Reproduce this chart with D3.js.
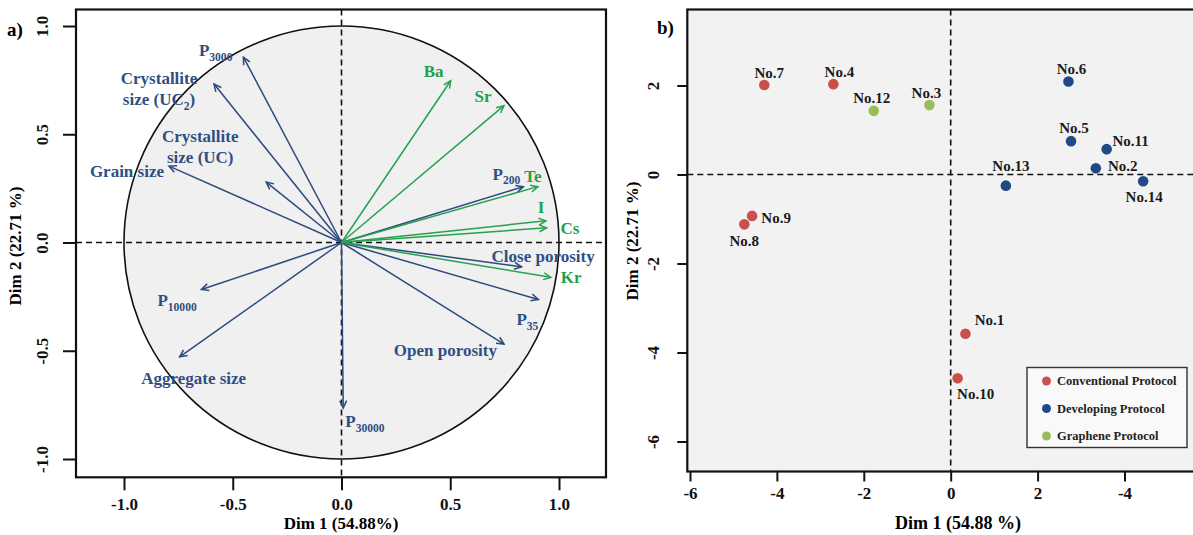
<!DOCTYPE html>
<html>
<head>
<meta charset="utf-8">
<script src="https://cdn.jsdelivr.net/npm/d3@7"></script>
<style>
body { margin: 0; background: #fff; }
text { font-family: "Liberation Serif", "Times New Roman", serif; font-weight: bold; }
</style>
</head>
<body>
<script>
// ---- panel a) variables (correlation circle) ----
var varNames = ['P_3000', 'Crystallite\nsize (UC_2)', 'Crystallite\nsize (UC)', 'Grain size', 'P_10000',
                'Aggregate size', 'P_30000', 'Open porosity', 'P_35', 'Close porosity', 'P_200',
                'Ba', 'Sr', 'Te', 'I', 'Cs', 'Kr'];
var varDim1 = [-0.451, -0.586, -0.346, -0.793, -0.644, -0.744, 0.008, 0.747, 0.905, 0.828, 0.836,
               0.502, 0.747, 0.903, 0.94, 0.943, 0.962];
var varDim2 = [0.856, 0.732, 0.279, 0.353, -0.217, -0.528, -0.764, -0.469, -0.263, -0.112, 0.258,
               0.747, 0.632, 0.258, 0.10, 0.068, -0.161];
var varGroup = ['s','s','s','s','s','s','s','s','s','s','s','e','e','e','e','e','e'];

var ticksA = [-1, -0.5, 0, 0.5, 1];
var tickLabelsA = ['-1.0', '-0.5', '0.0', '0.5', '1.0'];

// ---- panel b) individuals ----
var sampleNames = ['No.1','No.2','No.3','No.4','No.5','No.6','No.7','No.8','No.9','No.10','No.11','No.12','No.13','No.14'];
var sampleDim1 = [0.34, 3.34, -0.49, -2.70, 2.77, 2.71, -4.29, -4.75, -4.57, 0.16, 3.59, -1.77, 1.27, 4.43];
var sampleDim2 = [-3.58, 0.14, 1.56, 2.03, 0.75, 2.09, 2.01, -1.12, -0.93, -4.58, 0.57, 1.43, -0.25, -0.15];
var sampleProtocol = ['Conventional','Developing','Graphene','Conventional','Developing','Developing','Conventional',
                      'Conventional','Conventional','Conventional','Developing','Graphene','Developing','Developing'];

var protocols = ['Conventional', 'Developing', 'Graphene'];
var protocolLabels = ['Conventional Protocol', 'Developing Protocol', 'Graphene Protocol'];

var ticksBx = [-6, -4, -2, 0, 2, 4];
var tickLabelsBx = ['-6', '-4', '-2', '0', '2', '-4'];
var ticksBy = [-6, -4, -2, 0, 2];
var tickLabelsBy = ['-6', '-4', '-2', '0', '2'];

// label placement (pixels from the arrow tip / point)
var varLabelPos = {
  'P_3000': [-11, -7, 'end'], 'Crystallite\nsize (UC_2)': [-55, -6, 'middle'],
  'Crystallite\nsize (UC)': [-66, -46, 'middle'], 'Grain size': [-5, 5, 'end'],
  'P_10000': [-44, 11, 'start'], 'Aggregate size': [14, 21, 'middle'], 'P_30000': [2, 13, 'start'],
  'Open porosity': [-7, 6, 'end'], 'P_35': [0, 20, 'end'], 'Close porosity': [-30, -11, 'start'],
  'P_200': [-3, -13, 'end'], 'Ba': [-17, -10, 'middle'], 'Sr': [-21, -10, 'middle'],
  'Te': [-5, -11, 'middle'], 'I': [-5, -14, 'middle'], 'Cs': [14, 0, 'start'], 'Kr': [10, 0, 'start']
};
var sampleLabelPos = {
  'No.1': [24, -14], 'No.2': [27, -3], 'No.3': [-3, -12], 'No.4': [6, -12], 'No.5': [3, -13],
  'No.6': [3, -13], 'No.7': [5, -12], 'No.8': [0, 16], 'No.9': [24, 2], 'No.10': [18, 15],
  'No.11': [24, -8], 'No.12': [-2, -13], 'No.13': [5, -20], 'No.14': [1, 16]
};

var blue = '#2c4a7c', blueText = '#2f4f84', green = '#25a24f', greenText = '#21a04a';
var protocolColor = d3.scaleOrdinal().domain(protocols).range(['#c9504c', '#1f4a86', '#9bbb59']);

var svg = d3.select('body').append('svg').attr('width', 1193).attr('height', 535);

// helper: text with "_" subscripts and "\n" line breaks
function richText(sel, str, size) {
  var lines = str.split('\n');
  lines.forEach(function(line, li) {
    var parts = line.split(/_(\w+)/), shift = 0;
    parts.forEach(function(p, i) {
      if (p === '') return;
      var t = sel.append('tspan').text(p);
      var dy = 0;
      if (i === 0 && li > 0) { t.attr('x', sel.attr('x')); dy += size * 1.25; }
      if (i % 2 === 1) {
        t.attr('font-size', size * 0.68 + 'px');
        dy += size * 0.28; shift = size * 0.28;
      } else if (shift) {
        dy -= shift; shift = 0;
      }
      if (dy) t.attr('dy', dy + 'px');
    });
  });
}

// ================= panel a) =================
var A = {left: 76, top: 9.5, right: 606, bottom: 477.3};
var xA = d3.scaleLinear().domain([-1.2207, 1.2161]).range([A.left, A.right]);
var yA = d3.scaleLinear().domain([-1.0845, 1.0762]).range([A.bottom, A.top]);

var gA = svg.append('g');
gA.append('ellipse')
  .attr('cx', xA(0)).attr('cy', yA(0))
  .attr('rx', xA(1) - xA(0)).attr('ry', yA(0) - yA(1))
  .attr('fill', '#f0f0f0').attr('stroke', '#111').attr('stroke-width', 1.6);

gA.append('line').attr('x1', A.left).attr('x2', A.right).attr('y1', yA(0)).attr('y2', yA(0))
  .attr('stroke', '#111').attr('stroke-width', 1.6).attr('stroke-dasharray', '6,4');
gA.append('line').attr('x1', xA(0)).attr('x2', xA(0)).attr('y1', A.top).attr('y2', A.bottom)
  .attr('stroke', '#111').attr('stroke-width', 1.6).attr('stroke-dasharray', '6,4');

var arrowLine = d3.line();
varNames.forEach(function(name, i) {
  var ox = xA(0), oy = yA(0), tx = xA(varDim1[i]), ty = yA(varDim2[i]);
  var ang = Math.atan2(ty - oy, tx - ox), hl = 8, sp = 0.45;
  var col = varGroup[i] === 'e' ? green : blue;
  gA.append('path').attr('d', arrowLine([[ox, oy], [tx, ty]]))
    .attr('stroke', col).attr('stroke-width', 1.5).attr('fill', 'none');
  gA.append('path').attr('d', arrowLine([
      [tx - hl * Math.cos(ang - sp), ty - hl * Math.sin(ang - sp)], [tx, ty],
      [tx - hl * Math.cos(ang + sp), ty - hl * Math.sin(ang + sp)]]))
    .attr('stroke', col).attr('stroke-width', 1.5).attr('fill', 'none');

  var pos = varLabelPos[name];
  var t = gA.append('text').attr('x', tx + pos[0]).attr('y', ty + pos[1])
    .attr('dy', '0.35em').attr('text-anchor', pos[2]).attr('font-size', '17px')
    .attr('fill', varGroup[i] === 'e' ? greenText : blueText);
  richText(t, name, 17);
});

gA.append('rect').attr('x', A.left).attr('y', A.top)
  .attr('width', A.right - A.left).attr('height', A.bottom - A.top)
  .attr('fill', 'none').attr('stroke', '#111').attr('stroke-width', 2.2);

var axA1 = gA.append('g').attr('transform', 'translate(0,' + A.bottom + ')')
  .call(d3.axisBottom(xA).tickValues(ticksA).tickFormat(function(d, i) { return tickLabelsA[i]; })
        .tickSize(13).tickSizeOuter(0));
var axA2 = gA.append('g').attr('transform', 'translate(' + A.left + ',0)')
  .call(d3.axisLeft(yA).tickValues(ticksA).tickFormat(function(d, i) { return tickLabelsA[i]; })
        .tickSize(13).tickSizeOuter(0));
[axA1, axA2].forEach(function(ax) {
  ax.select('.domain').remove();
  ax.selectAll('line').attr('stroke', '#111').attr('stroke-width', 2);
  ax.selectAll('text').attr('font-size', '17px').attr('fill', '#111');
});
axA1.selectAll('text').attr('y', 27).attr('dy', '0.35em');
axA2.selectAll('text').attr('x', null).attr('dy', null).attr('text-anchor', 'middle')
  .attr('dominant-baseline', 'central').attr('transform', 'translate(-34,0) rotate(-90)');

gA.append('text').attr('x', 341).attr('y', 523).attr('dy', '0.35em').attr('text-anchor', 'middle')
  .attr('font-size', '17px').text('Dim 1 (54.88%)');
gA.append('text').attr('transform', 'translate(15,246) rotate(-90)').attr('dy', '0.35em')
  .attr('text-anchor', 'middle').attr('font-size', '17px').text('Dim 2 (22.71 %)');
gA.append('text').attr('x', 7).attr('y', 29).attr('dy', '0.35em').attr('font-size', '19px').text('a)');

// ================= panel b) =================
var B = {left: 687.3, top: 9.5, right: 1200, bottom: 471.5};
var xB = d3.scaleLinear().domain([-6.062, 5.738]).range([B.left, B.right]);
var yB = d3.scaleLinear().domain([-6.674, 3.708]).range([B.bottom, B.top]);

var gB = svg.append('g');
gB.append('rect').attr('x', B.left).attr('y', B.top)
  .attr('width', B.right - B.left).attr('height', B.bottom - B.top).attr('fill', '#f2f2f2');

gB.append('line').attr('x1', B.left).attr('x2', B.right).attr('y1', yB(0)).attr('y2', yB(0))
  .attr('stroke', '#111').attr('stroke-width', 1.6).attr('stroke-dasharray', '6,4');
gB.append('line').attr('x1', xB(0)).attr('x2', xB(0)).attr('y1', B.top).attr('y2', B.bottom)
  .attr('stroke', '#111').attr('stroke-width', 1.6).attr('stroke-dasharray', '6,4');

gB.selectAll('circle.pt').data(sampleNames).enter().append('circle')
  .attr('class', 'pt')
  .attr('cx', function(d, i) { return xB(sampleDim1[i]); })
  .attr('cy', function(d, i) { return yB(sampleDim2[i]); })
  .attr('r', 5.3)
  .attr('fill', function(d, i) { return protocolColor(sampleProtocol[i]); });

gB.selectAll('text.lbl').data(sampleNames).enter().append('text')
  .attr('class', 'lbl')
  .attr('x', function(d, i) { return xB(sampleDim1[i]) + sampleLabelPos[d][0]; })
  .attr('y', function(d, i) { return yB(sampleDim2[i]) + sampleLabelPos[d][1]; })
  .attr('dy', '0.35em').attr('text-anchor', 'middle').attr('font-size', '15px').attr('fill', '#1a1a1a')
  .text(function(d) { return d; });

gB.append('rect').attr('x', B.left).attr('y', B.top)
  .attr('width', B.right - B.left).attr('height', B.bottom - B.top)
  .attr('fill', 'none').attr('stroke', '#111').attr('stroke-width', 2.2);

var axB1 = gB.append('g').attr('transform', 'translate(0,' + B.bottom + ')')
  .call(d3.axisBottom(xB).tickValues(ticksBx).tickFormat(function(d, i) { return tickLabelsBx[i]; })
        .tickSize(10).tickSizeOuter(0));
var axB2 = gB.append('g').attr('transform', 'translate(' + B.left + ',0)')
  .call(d3.axisLeft(yB).tickValues(ticksBy).tickFormat(function(d, i) { return tickLabelsBy[i]; })
        .tickSize(10).tickSizeOuter(0));
[axB1, axB2].forEach(function(ax) {
  ax.select('.domain').remove();
  ax.selectAll('line').attr('stroke', '#111').attr('stroke-width', 2);
  ax.selectAll('text').attr('font-size', '17px').attr('fill', '#111');
});
axB1.selectAll('text').attr('y', 22).attr('dy', '0.35em');
axB2.selectAll('text').attr('x', null).attr('dy', null).attr('text-anchor', 'middle')
  .attr('dominant-baseline', 'central').attr('transform', 'translate(-34,0) rotate(-90)');

gB.append('text').attr('x', 958).attr('y', 523).attr('dy', '0.35em').attr('text-anchor', 'middle')
  .attr('font-size', '18px').text('Dim 1 (54.88 %)');
gB.append('text').attr('transform', 'translate(632,241) rotate(-90)').attr('dy', '0.35em')
  .attr('text-anchor', 'middle').attr('font-size', '17px').text('Dim 2 (22.71 %)');
gB.append('text').attr('x', 657).attr('y', 27).attr('dy', '0.35em').attr('font-size', '19px').text('b)');

// legend
var leg = gB.append('g').attr('transform', 'translate(1027,367.5)');
leg.append('rect').attr('width', 160).attr('height', 80)
  .attr('fill', '#f9f9f9').attr('stroke', '#333').attr('stroke-width', 1.4);
protocols.forEach(function(p, i) {
  leg.append('circle').attr('cx', 19.5).attr('cy', 13.5 + i * 27.5).attr('r', 4.5).attr('fill', protocolColor(p));
  leg.append('text').attr('x', 30).attr('y', 13.5 + i * 27.5).attr('dy', '0.35em')
    .attr('font-size', '12.5px').attr('fill', '#222').text(protocolLabels[i]);
});
</script>
</body>
</html>
